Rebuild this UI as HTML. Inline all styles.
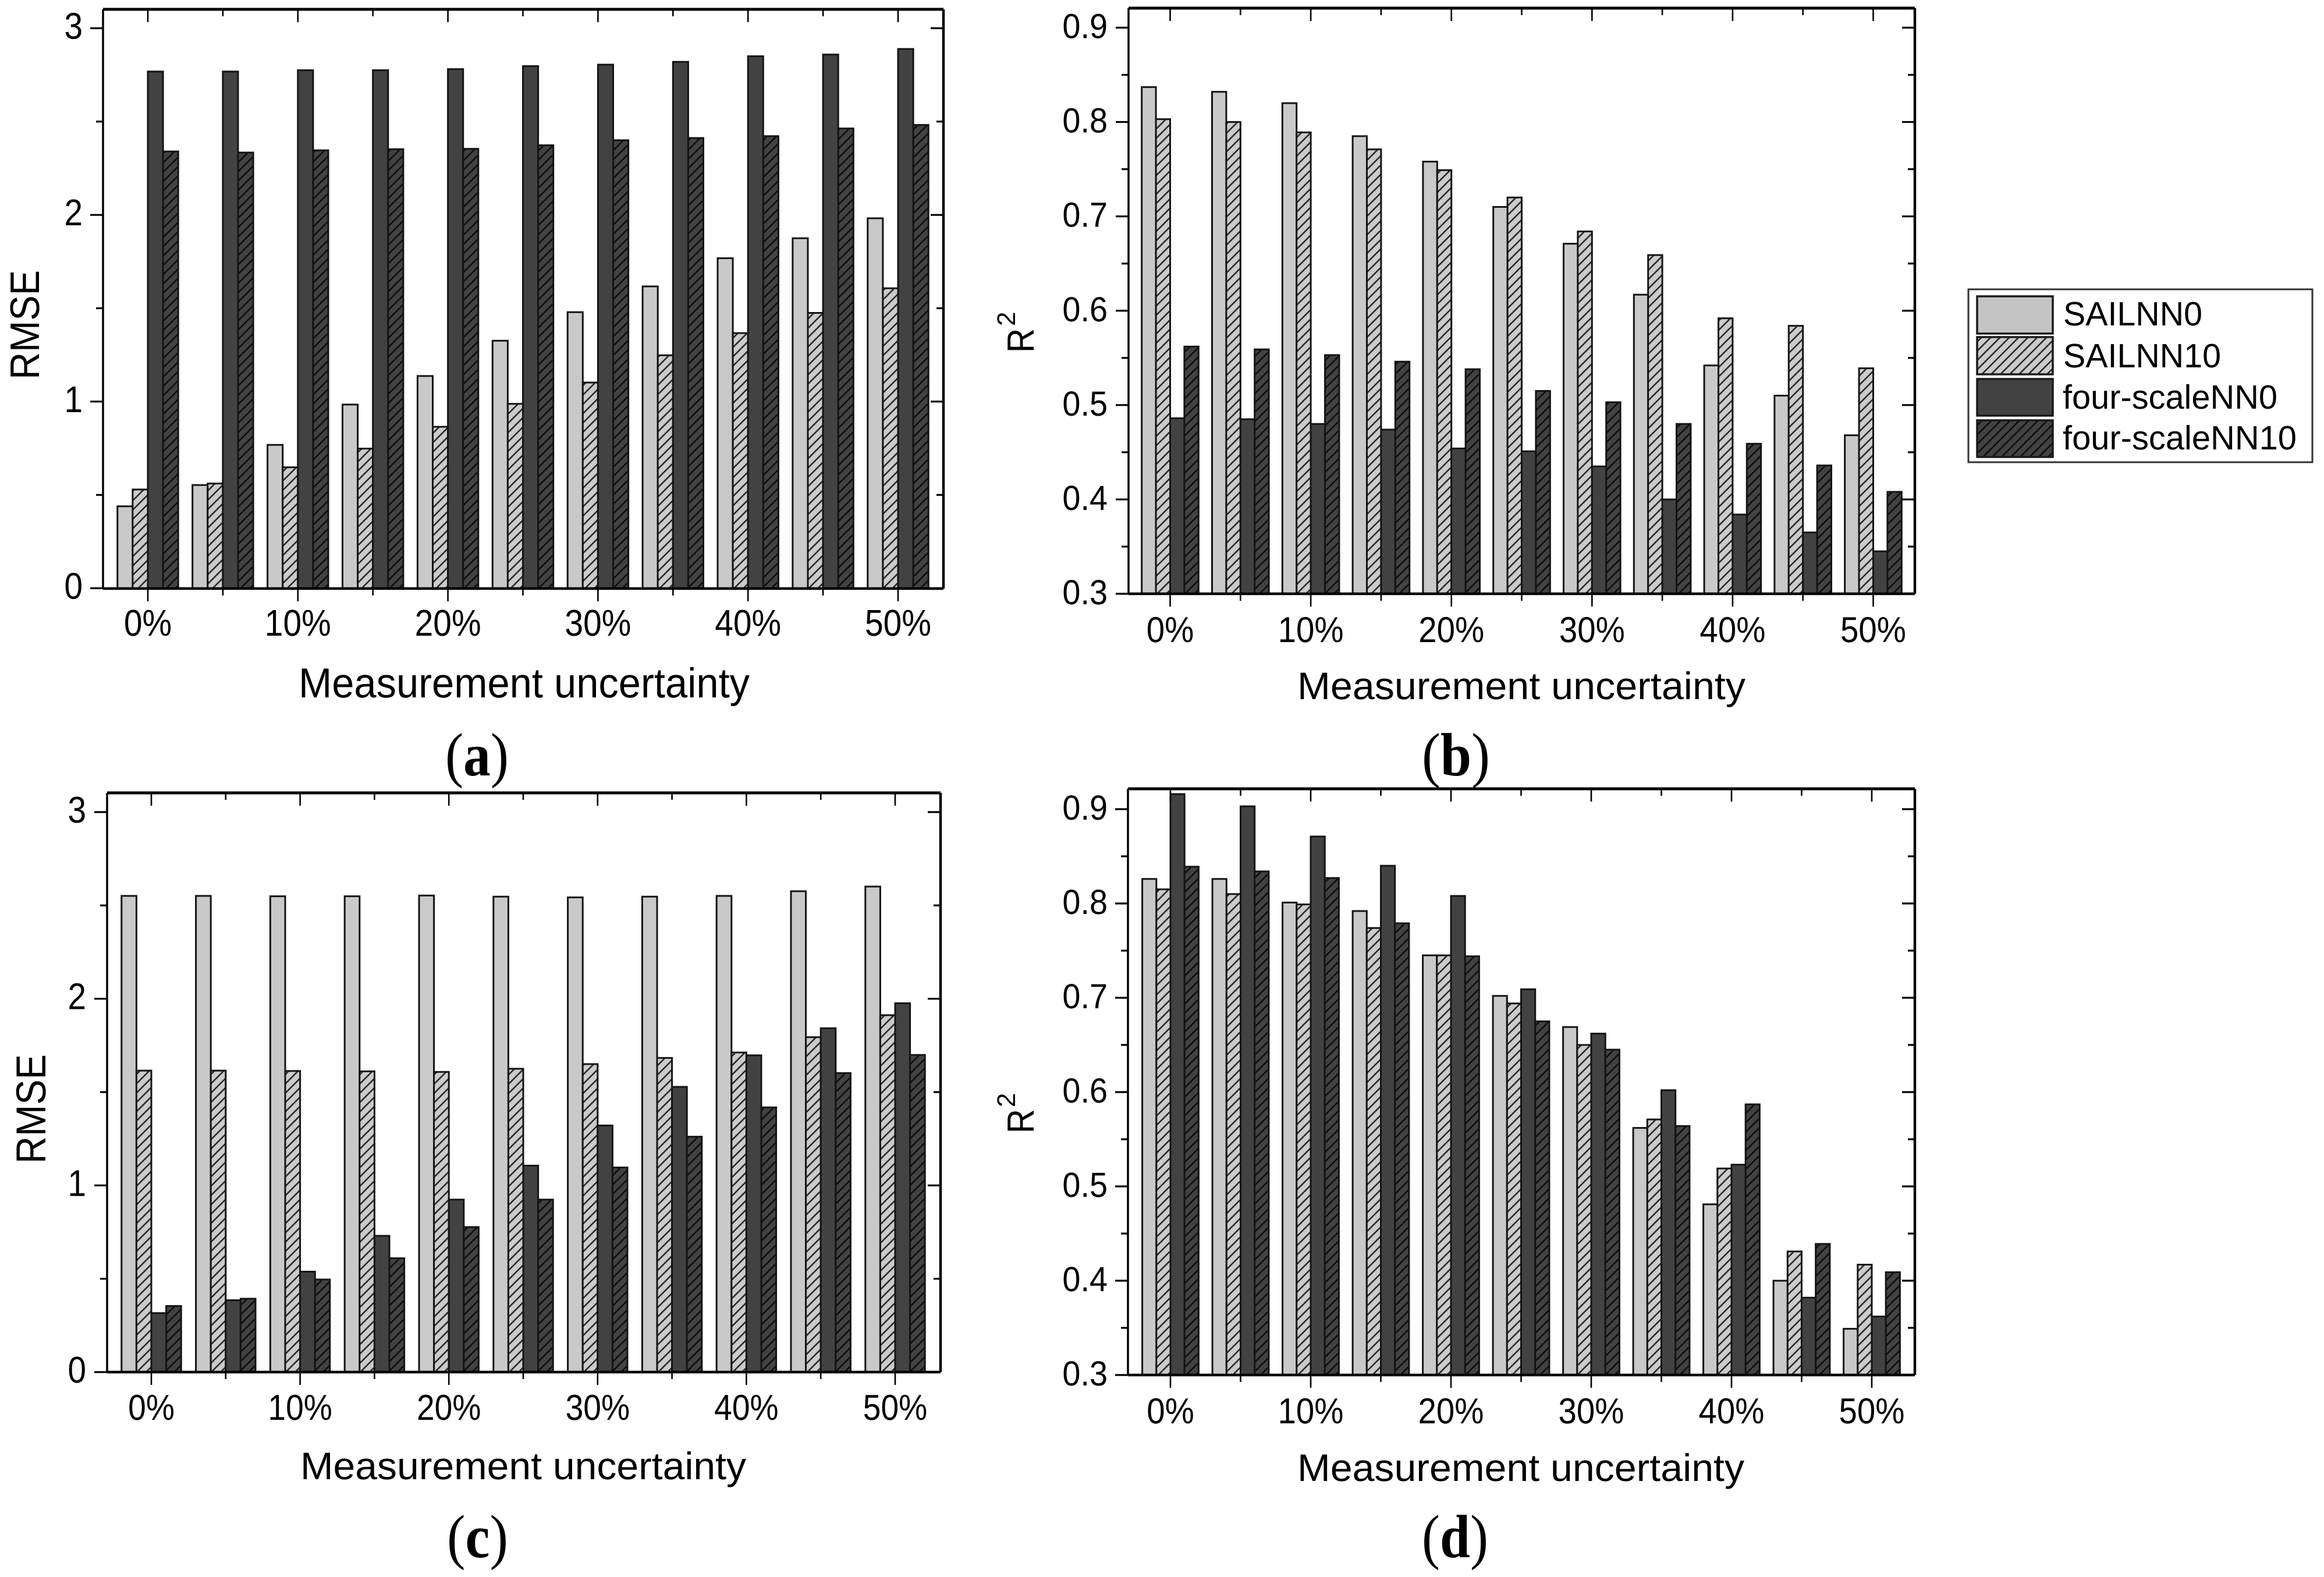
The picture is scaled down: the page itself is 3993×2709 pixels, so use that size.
<!DOCTYPE html>
<html lang="en">
<head>
<meta charset="utf-8">
<title>Measurement uncertainty: RMSE and R2 bar charts</title>
<style>
html,body{margin:0;padding:0;background:#fff;}
svg{display:block;}
text{font-family:"Liberation Sans",Arial,sans-serif;fill:#000;text-rendering:geometricPrecision;}
.cap{font-family:"Liberation Serif","Times New Roman",serif;font-weight:normal;}
.cap tspan{font-weight:bold;}
</style>
</head>
<body>
<svg id="figure" xmlns="http://www.w3.org/2000/svg" width="3993" height="2709" viewBox="0 0 3993 2709">
<defs>
<pattern id="hatch-light" patternUnits="userSpaceOnUse" width="16" height="16">
<rect width="16" height="16" fill="#cbcbcb"/>
<path d="M-4,4 L4,-4 M0,16 L16,0 M12,20 L20,12" stroke="#2a2a2a" stroke-width="2.6" fill="none"/>
</pattern>
<pattern id="hatch-dark" patternUnits="userSpaceOnUse" width="16" height="16">
<rect width="16" height="16" fill="#424242"/>
<path d="M-4,4 L4,-4 M0,16 L16,0 M12,20 L20,12" stroke="#0d0d0d" stroke-width="2.6" fill="none"/>
</pattern>
</defs>
<rect x="0" y="0" width="3993" height="2709" fill="#fff"/>
<g id="panels"></g>

<text x="513" y="1198" font-size="72" textLength="775" lengthAdjust="spacingAndGlyphs">Measurement uncertainty</text>
<text x="2229" y="1201" font-size="66" textLength="770" lengthAdjust="spacingAndGlyphs">Measurement uncertainty</text>
<text x="516" y="2541" font-size="66" textLength="766" lengthAdjust="spacingAndGlyphs">Measurement uncertainty</text>
<text x="2229" y="2544" font-size="66" textLength="768" lengthAdjust="spacingAndGlyphs">Measurement uncertainty</text>

<text transform="translate(67,652) rotate(-90)" font-size="71" textLength="188" lengthAdjust="spacingAndGlyphs">RMSE</text>
<text transform="translate(78,1999) rotate(-90)" font-size="72" textLength="188" lengthAdjust="spacingAndGlyphs">RMSE</text>

<text transform="translate(1776,606) rotate(-90)" font-size="65" textLength="42" lengthAdjust="spacingAndGlyphs">R</text>
<text transform="translate(1744,560) rotate(-90)" font-size="44">2</text>
<text transform="translate(1776,1947) rotate(-90)" font-size="65" textLength="42" lengthAdjust="spacingAndGlyphs">R</text>
<text transform="translate(1744,1902) rotate(-90)" font-size="44">2</text>

<text class="cap" x="765" y="1332" font-size="105" textLength="109" lengthAdjust="spacingAndGlyphs">(<tspan>a</tspan>)</text>
<text class="cap" x="2443" y="1332" font-size="105" textLength="117" lengthAdjust="spacingAndGlyphs">(<tspan>b</tspan>)</text>
<text class="cap" x="768" y="2675" font-size="105" textLength="105" lengthAdjust="spacingAndGlyphs">(<tspan>c</tspan>)</text>
<text class="cap" x="2443" y="2675" font-size="105" textLength="114" lengthAdjust="spacingAndGlyphs">(<tspan>d</tspan>)</text>

<g>
<rect x="3382" y="497" width="591" height="297" fill="#fff" stroke="#333" stroke-width="3"/>
<rect x="3397" y="509" width="130" height="64" fill="#c4c4c4" stroke="#1a1a1a" stroke-width="3.5"/>
<rect x="3397" y="579" width="130" height="64" fill="url(#hatch-light)" stroke="#1a1a1a" stroke-width="3.5"/>
<rect x="3397" y="651" width="130" height="63" fill="#424242" stroke="#1a1a1a" stroke-width="3.5"/>
<rect x="3397" y="722" width="130" height="63" fill="url(#hatch-dark)" stroke="#1a1a1a" stroke-width="3.5"/>
<text x="3545" y="559" font-size="58" textLength="239" lengthAdjust="spacingAndGlyphs">SAILNN0</text>
<text x="3545" y="631" font-size="58" textLength="271" lengthAdjust="spacingAndGlyphs">SAILNN10</text>
<text x="3544" y="702" font-size="58" textLength="369" lengthAdjust="spacingAndGlyphs">four-scaleNN0</text>
<text x="3544" y="772" font-size="58" textLength="402" lengthAdjust="spacingAndGlyphs">four-scaleNN10</text>
</g>

<script>
const categories = ['0%','5%','10%','15%','20%','25%','30%','35%','40%','45%','50%'];
const xTickLabels = ['0%','','10%','','20%','','30%','','40%','','50%'];
const rmseTicks = [0,0.5,1,1.5,2,2.5,3];
const rmseTickLabels = ['0','','1','','2','','3'];
const r2Ticks = [0.3,0.35,0.4,0.45,0.5,0.55,0.6,0.65,0.7,0.75,0.8,0.85,0.9];
const r2TickLabels = ['0.3','','0.4','','0.5','','0.6','','0.7','','0.8','','0.9'];
const seriesNames = ['sailnn0','sailnn10','four-scalenn0','four-scalenn10'];

const aSail0 = [0.439,0.553,0.768,0.984,1.137,1.326,1.479,1.617,1.768,1.875,1.982];
const aSail10 = [0.529,0.561,0.648,0.748,0.865,0.988,1.102,1.248,1.367,1.475,1.607];
const aFour0 = [2.768,2.768,2.775,2.775,2.781,2.797,2.805,2.82,2.85,2.859,2.889];
const aFour10 = [2.34,2.334,2.346,2.352,2.354,2.373,2.40,2.412,2.422,2.463,2.482];

const bSail0 = [0.837,0.832,0.820,0.785,0.758,0.710,0.671,0.617,0.542,0.510,0.468];
const bSail10 = [0.803,0.800,0.789,0.771,0.749,0.720,0.684,0.659,0.592,0.584,0.539];
const bFour0 = [0.486,0.485,0.480,0.474,0.454,0.451,0.435,0.400,0.384,0.365,0.345];
const bFour10 = [0.562,0.559,0.553,0.546,0.538,0.515,0.503,0.480,0.459,0.436,0.408];

const cSail0 = [2.551,2.551,2.549,2.549,2.553,2.547,2.543,2.547,2.551,2.576,2.601];
const cSail10 = [1.615,1.615,1.613,1.611,1.608,1.625,1.650,1.683,1.712,1.794,1.912];
const cFour0 = [0.316,0.385,0.538,0.730,0.924,1.106,1.321,1.528,1.697,1.842,1.976];
const cFour10 = [0.354,0.393,0.496,0.610,0.777,0.924,1.096,1.261,1.418,1.602,1.699];

const dSail0 = [0.826,0.826,0.801,0.792,0.745,0.702,0.669,0.562,0.481,0.400,0.349];
const dSail10 = [0.815,0.810,0.799,0.774,0.745,0.694,0.650,0.571,0.519,0.431,0.417];
const dFour0 = [0.916,0.903,0.871,0.840,0.808,0.709,0.662,0.602,0.523,0.382,0.362];
const dFour10 = [0.839,0.834,0.827,0.779,0.744,0.675,0.645,0.564,0.587,0.439,0.409];

const seriesFills = ['#c9c9c9','url(#hatch-light)','#424242','url(#hatch-dark)'];
const NS = 'http://www.w3.org/2000/svg';

function make(tag, attrs, parent) {
  const el = document.createElementNS(NS, tag);
  for (const k in attrs) el.setAttribute(k, attrs[k]);
  parent.appendChild(el);
  return el;
}

function drawPanel(p) {
  const root = document.getElementById('panels');
  const g = make('g', {}, root);
  
  

  const xCenter = i => p.x0 + i * p.step;
  const xBar = (i, s) => xCenter(i) + (s - 2) * p.barW;
  const yPos = v => p.yZero + (v - p.vMin) * (p.yTop - p.yZero) / (p.vMax - p.vMin);

  p.series.forEach((values, s) => {
    values.forEach((v, i) => {
      const top = yPos(v);
      const bar = make('rect', {
        x: xBar(i, s), y: top, width: p.barW, height: p.bottom - top,
        fill: seriesFills[s], stroke: '#141414', 'stroke-width': 3
      }, g);
      
      
    });
  });

  const frame = [
    ['axis-top', p.left, p.top, p.right, p.top, 5],
    ['axis-left', p.left, p.top, p.left, p.bottom, 3.5],
    ['axis-right', p.right, p.top, p.right, p.bottom, 4.5],
    ['axis-bottom', p.left, p.bottom, p.right, p.bottom, 4.5]
  ];
  frame.forEach(f => {
    const ln = make('line', {x1: f[1], y1: f[2], x2: f[3], y2: f[4], stroke: '#000', 'stroke-width': f[5]}, g);
    
    
  });

  categories.forEach((c, i) => {
    const x = xCenter(i);
    const major = xTickLabels[i] !== '';
    const len = major ? 22 : 12;
    const bottomTick = make('line', {x1: x, y1: p.bottom, x2: x, y2: p.bottom + len, stroke: '#000', 'stroke-width': 2.6}, g);
    
    
    const topTick = make('line', {x1: x, y1: p.top, x2: x, y2: p.top + len, stroke: '#000', 'stroke-width': 2.6}, g);
    
    
    if (major) {
      const t = make('text', {
        transform: 'translate(' + x + ',' + p.xLabelY + ') scale(' + p.labelSx + ',1)',
        'font-size': p.xLabelSize, 'text-anchor': 'middle'
      }, g);
      t.textContent = xTickLabels[i];
      
      
    }
  });

  p.ticks.forEach((v, i) => {
    const y = yPos(v);
    const major = p.tickLabels[i] !== '';
    const len = major ? 22 : 12;
    const leftTick = make('line', {x1: p.left - len, y1: y, x2: p.left, y2: y, stroke: '#000', 'stroke-width': 3.2}, g);
    
    
    const rightTick = make('line', {x1: p.right - len, y1: y, x2: p.right, y2: y, stroke: '#000', 'stroke-width': 3.2}, g);
    
    
    if (major) {
      const t = make('text', {
        transform: 'translate(' + p.yLabelX + ',' + (y + 18) + ') scale(' + p.yLabelSx + ',1)',
        'font-size': p.yLabelSize, 'text-anchor': 'end'
      }, g);
      t.textContent = p.tickLabels[i];
      
      
    }
  });
}

drawPanel({id:'a', series:[aSail0,aSail10,aFour0,aFour10], ticks:rmseTicks, tickLabels:rmseTickLabels,
  left:177, right:1621, top:16, bottom:1011, x0:254, step:128.9, barW:26.1,
  vMin:0, vMax:3, yZero:1010.5, yTop:48.5, xLabelY:1092, xLabelSize:64, labelSx:0.89, yLabelX:142, yLabelSize:64, yLabelSx:0.89});
drawPanel({id:'b', series:[bSail0,bSail10,bFour0,bFour10], ticks:r2Ticks, tickLabels:r2TickLabels,
  left:1939, right:3290, top:14, bottom:1020, x0:2010.5, step:120.8, barW:24.4,
  vMin:0.3, vMax:0.9, yZero:1020, yTop:47.5, xLabelY:1103, xLabelSize:62, labelSx:0.91, yLabelX:1903, yLabelSize:60, yLabelSx:0.93});
drawPanel({id:'c', series:[cSail0,cSail10,cFour0,cFour10], ticks:rmseTicks, tickLabels:rmseTickLabels,
  left:184, right:1616, top:1362, bottom:2357, x0:260, step:127.8, barW:25.6,
  vMin:0, vMax:3, yZero:2357, yTop:1395, xLabelY:2439, xLabelSize:62, labelSx:0.89, yLabelX:148, yLabelSize:64, yLabelSx:0.89});
drawPanel({id:'d', series:[dSail0,dSail10,dFour0,dFour10], ticks:r2Ticks, tickLabels:r2TickLabels,
  left:1938, right:3290, top:1355, bottom:2362, x0:2011, step:120.5, barW:24.2,
  vMin:0.3, vMax:0.9, yZero:2362, yTop:1390, xLabelY:2445, xLabelSize:62, labelSx:0.91, yLabelX:1903, yLabelSize:60, yLabelSx:0.93});
</script>
</svg>
</body>
</html>
